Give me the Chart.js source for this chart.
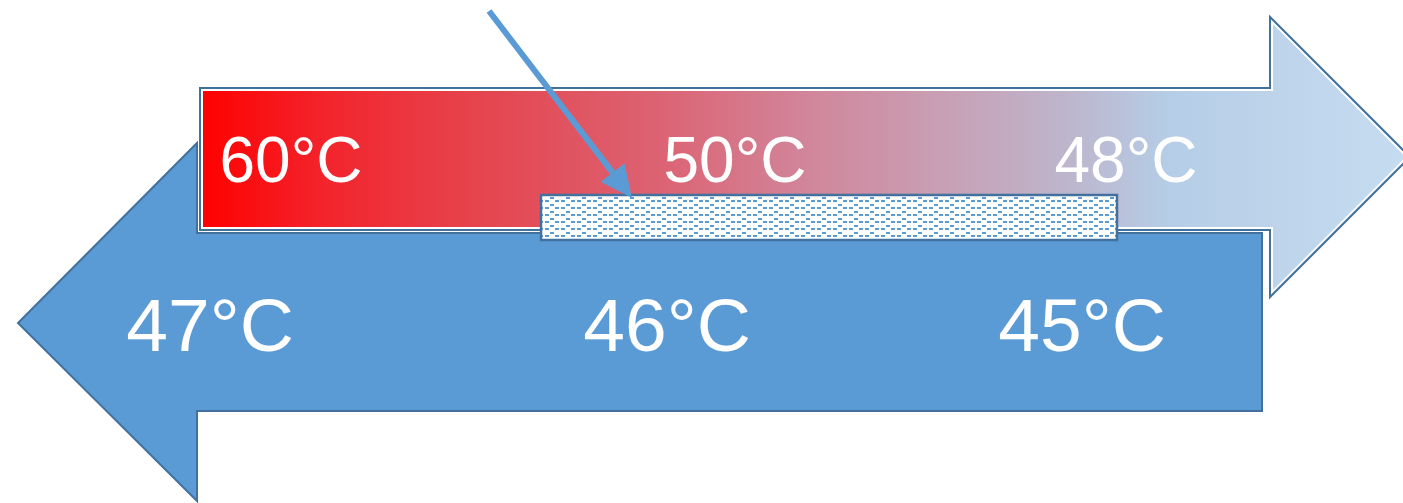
<!DOCTYPE html>
<html>
<head>
<meta charset="utf-8">
<script src="https://cdn.jsdelivr.net/npm/chart.js@4/dist/chart.umd.min.js"></script>
<style>
  html, body { margin: 0; padding: 0; background: #ffffff; }
  canvas { display: block; }
</style>
</head>
<body>
<canvas id="hx" width="1403" height="503"></canvas>
<script>
// Stream temperatures along the exchanger (inlet, middle, outlet)
const hotTemps = [60, 50, 48];
const coldTemps = [47, 46, 45];
const stations = ['inlet', 'middle', 'outlet'];

// Layout (in canvas units; scales map 1:1 to pixels)
const hotLabelX = [291, 735, 1126];
const coldLabelX = [210, 667, 1082];
const hotLabelY = 164;
const coldLabelY = 330;

// Hot stream arrow, pointing right
const hotArrow = [[200, 88], [1270, 88], [1270, 17], [1410, 157], [1270, 297], [1270, 230], [200, 230]];
// Cold stream arrow, pointing left
const coldArrow = [[1262, 233], [1262, 411], [197, 411], [197, 501], [18, 323], [197, 143], [197, 233]];
// Exchange wall
const wallRect = [541, 195, 1117, 240];
// Pointer to the wall
const pointer = [[489, 11], [632, 198]];

const fmt = t => t + '°C';

function hatchPattern(ctx) {
  const c = document.createElement('canvas');
  c.width = 16; c.height = 7;
  const g = c.getContext('2d');
  g.fillStyle = '#ffffff';
  g.fillRect(0, 0, 16, 7);
  g.fillStyle = '#5b9bd5';
  g.fillRect(1, 4, 4, 2);
  g.fillRect(6, 1, 4, 2);
  g.fillRect(11, 4, 4, 2);
  return ctx.createPattern(c, 'repeat');
}

const diagramPlugin = {
  id: 'heatExchanger',
  beforeDatasetsDraw(chart) {
    const ctx = chart.ctx;
    const xs = chart.scales.x, ys = chart.scales.y;
    const P = p => [xs.getPixelForValue(p[0]), ys.getPixelForValue(p[1])];

    const path = pts => {
      ctx.beginPath();
      pts.forEach((p, i) => {
        const [x, y] = P(p);
        if (i === 0) ctx.moveTo(x, y); else ctx.lineTo(x, y);
      });
      ctx.closePath();
    };

    ctx.save();
    ctx.lineJoin = 'miter';

    // cold stream
    path(coldArrow);
    ctx.fillStyle = '#5b9bd5';
    ctx.fill();
    ctx.strokeStyle = '#41719c';
    ctx.lineWidth = 2;
    ctx.stroke();

    // hot stream with red-to-blue gradient
    const gx0 = xs.getPixelForValue(200), gx1 = xs.getPixelForValue(1410);
    const grad = ctx.createLinearGradient(gx0, 0, gx1, 0);
    grad.addColorStop(0.00, '#ff0000');
    grad.addColorStop(0.10, '#f3232b');
    grad.addColorStop(0.22, '#e6424c');
    grad.addColorStop(0.38, '#dc6373');
    grad.addColorStop(0.50, '#d1859a');
    grad.addColorStop(0.62, '#c7a1b6');
    grad.addColorStop(0.72, '#bdb6cd');
    grad.addColorStop(0.80, '#b5cde6');
    grad.addColorStop(1.00, '#c6dcf0');
    path(hotArrow);
    ctx.fillStyle = grad;
    ctx.fill();
    ctx.save();
    path(hotArrow);
    ctx.clip();
    ctx.strokeStyle = '#ffffff';
    ctx.lineWidth = 6;
    ctx.stroke();
    ctx.restore();
    path(hotArrow);
    ctx.strokeStyle = '#41719c';
    ctx.lineWidth = 2;
    ctx.stroke();

    // exchange wall
    const [wx0, wy0] = P([wallRect[0], wallRect[1]]);
    const [wx1, wy1] = P([wallRect[2], wallRect[3]]);
    ctx.fillStyle = hatchPattern(ctx);
    ctx.fillRect(wx0, wy0, wx1 - wx0, wy1 - wy0);
    ctx.strokeStyle = '#41719c';
    ctx.lineWidth = 2.5;
    ctx.strokeRect(wx0, wy0, wx1 - wx0, wy1 - wy0);

    // pointer arrow
    const [ax, ay] = P(pointer[0]);
    const [bx, by] = P(pointer[1]);
    const ang = Math.atan2(by - ay, bx - ax);
    const headLen = 32, headHalf = 15;
    const baseX = bx - headLen * Math.cos(ang), baseY = by - headLen * Math.sin(ang);
    ctx.strokeStyle = '#5b9bd5';
    ctx.lineWidth = 6;
    ctx.lineCap = 'butt';
    ctx.beginPath();
    ctx.moveTo(ax, ay);
    ctx.lineTo(baseX + 2 * Math.cos(ang), baseY + 2 * Math.sin(ang));
    ctx.stroke();
    ctx.fillStyle = '#5b9bd5';
    ctx.beginPath();
    ctx.moveTo(bx, by);
    ctx.lineTo(baseX + headHalf * Math.sin(ang), baseY - headHalf * Math.cos(ang));
    ctx.lineTo(baseX - headHalf * Math.sin(ang), baseY + headHalf * Math.cos(ang));
    ctx.closePath();
    ctx.fill();

    ctx.restore();
  },
  afterDatasetsDraw(chart) {
    const ctx = chart.ctx;
    ctx.save();
    ctx.fillStyle = '#ffffff';
    ctx.textAlign = 'center';
    ctx.textBaseline = 'middle';
    chart.data.datasets.forEach((ds, di) => {
      const meta = chart.getDatasetMeta(di);
      ctx.font = ds.labelFont;
      meta.data.forEach((pt, i) => {
        ctx.fillText(fmt(ds.temps[i]), pt.x, pt.y);
      });
    });
    ctx.restore();
  }
};

new Chart(document.getElementById('hx'), {
  type: 'scatter',
  data: {
    datasets: [
      {
        label: 'Hot stream',
        temps: hotTemps,
        labelFont: '64px "Liberation Sans", Arial, sans-serif',
        data: stations.map((s, i) => ({ x: hotLabelX[i], y: hotLabelY })),
        pointRadius: 0
      },
      {
        label: 'Cold stream',
        temps: coldTemps,
        labelFont: '75px "Liberation Sans", Arial, sans-serif',
        data: stations.map((s, i) => ({ x: coldLabelX[i], y: coldLabelY })),
        pointRadius: 0
      }
    ]
  },
  options: {
    responsive: false,
    devicePixelRatio: 1,
    animation: false,
    layout: { padding: 0 },
    plugins: { legend: { display: false }, tooltip: { enabled: false } },
    scales: {
      x: { type: 'linear', min: 0, max: 1403, display: false },
      y: { type: 'linear', min: 0, max: 503, reverse: true, display: false }
    }
  },
  plugins: [diagramPlugin]
});
</script>
</body>
</html>
